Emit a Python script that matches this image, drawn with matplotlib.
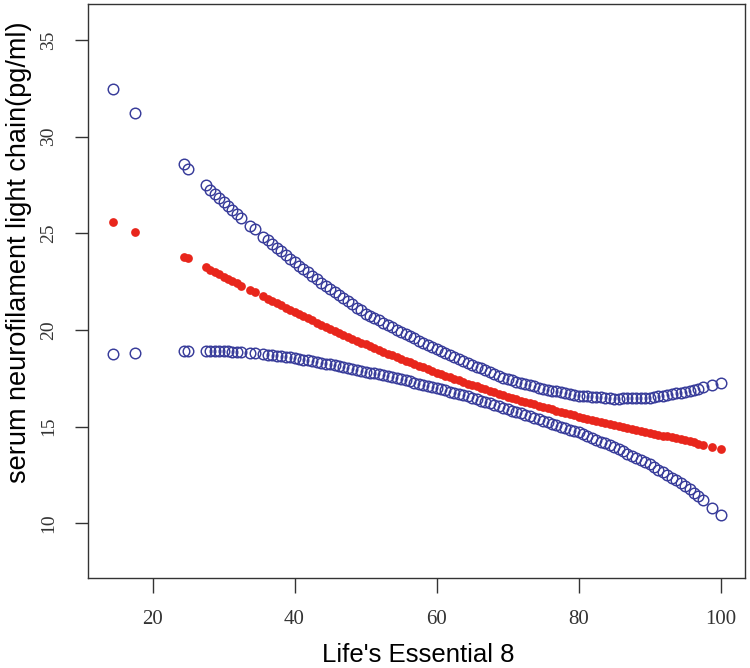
import matplotlib
matplotlib.use("Agg")
import matplotlib.pyplot as plt

# Life's Essential 8 score (x) and the three fitted series
le8 = [
    14.375, 17.5, 24.375, 25.0,
    27.5, 28.125, 28.75, 29.375, 30.0,
    30.625, 31.25, 31.875, 32.5, 33.75, 34.375,
    35.625, 36.25, 36.875, 37.5, 38.125, 38.75, 39.375, 40.0,
    40.625, 41.25, 41.875, 42.5, 43.125, 43.75, 44.375, 45.0,
    45.625, 46.25, 46.875, 47.5, 48.125, 48.75, 49.375, 50.0,
    50.625, 51.25, 51.875, 52.5, 53.125, 53.75, 54.375, 55.0,
    55.625, 56.25, 56.875, 57.5, 58.125, 58.75, 59.375, 60.0,
    60.625, 61.25, 61.875, 62.5, 63.125, 63.75, 64.375, 65.0,
    65.625, 66.25, 66.875, 67.5, 68.125, 68.75, 69.375, 70.0,
    70.625, 71.25, 71.875, 72.5, 73.125, 73.75, 74.375, 75.0,
    75.625, 76.25, 76.875, 77.5, 78.125, 78.75, 79.375, 80.0,
    80.625, 81.25, 81.875, 82.5, 83.125, 83.75, 84.375, 85.0,
    85.625, 86.25, 86.875, 87.5, 88.125, 88.75, 89.375, 90.0,
    90.625, 91.25, 91.875, 92.5, 93.125, 93.75, 94.375, 95.0,
    95.625, 96.25, 96.875, 97.5,
    98.75, 100.0,
]

nfl_fit = [
    25.60, 25.05, 23.80, 23.70,
    23.25, 23.12, 23.00, 22.87, 22.75,
    22.64, 22.53, 22.41, 22.30, 22.08, 21.96,
    21.74, 21.62, 21.50, 21.39, 21.27, 21.16, 21.04, 20.93,
    20.82, 20.71, 20.60, 20.49, 20.38, 20.27, 20.16, 20.05,
    19.95, 19.85, 19.75, 19.65, 19.55, 19.45, 19.35, 19.25,
    19.16, 19.06, 18.97, 18.88, 18.78, 18.69, 18.59, 18.50,
    18.41, 18.33, 18.24, 18.15, 18.06, 17.98, 17.89, 17.80,
    17.72, 17.64, 17.56, 17.48, 17.39, 17.31, 17.23, 17.15,
    17.08, 17.00, 16.93, 16.85, 16.78, 16.70, 16.63, 16.55,
    16.48, 16.42, 16.35, 16.29, 16.22, 16.15, 16.09, 16.02,
    15.96, 15.90, 15.83, 15.77, 15.71, 15.65, 15.58, 15.52,
    15.47, 15.41, 15.36, 15.30, 15.25, 15.19, 15.14, 15.08,
    15.03, 14.98, 14.93, 14.88, 14.83, 14.78, 14.73, 14.68,
    14.63, 14.59, 14.54, 14.49, 14.44, 14.40, 14.35, 14.30,
    14.24, 14.18, 14.12, 14.06,
    13.94, 13.82,
]

nfl_upper = [
    32.45, 31.20, 28.60, 28.35,
    27.48, 27.26, 27.04, 26.82, 26.60,
    26.40, 26.19, 25.99, 25.78, 25.39, 25.20,
    24.81, 24.63, 24.44, 24.25, 24.06, 23.88, 23.69, 23.50,
    23.33, 23.15, 22.98, 22.80, 22.63, 22.45, 22.28, 22.10,
    21.94, 21.79, 21.63, 21.48, 21.32, 21.16, 21.01, 20.85,
    20.73, 20.61, 20.49, 20.38, 20.26, 20.14, 20.02, 19.90,
    19.79, 19.68, 19.56, 19.45, 19.34, 19.23, 19.11, 19.00,
    18.90, 18.80, 18.70, 18.60, 18.50, 18.40, 18.30, 18.20,
    18.11, 18.01, 17.92, 17.83, 17.73, 17.64, 17.54, 17.45,
    17.39, 17.33, 17.26, 17.20, 17.14, 17.08, 17.01, 16.95,
    16.91, 16.86, 16.82, 16.78, 16.73, 16.69, 16.64, 16.60,
    16.58, 16.56, 16.54, 16.53, 16.51, 16.49, 16.47, 16.45,
    16.45, 16.46, 16.47, 16.47, 16.48, 16.49, 16.49, 16.50,
    16.54, 16.58, 16.61, 16.65, 16.69, 16.73, 16.76, 16.80,
    16.86, 16.91, 16.97, 17.03,
    17.14, 17.25,
]

nfl_lower = [
    18.78, 18.82, 18.90, 18.90,
    18.92, 18.92, 18.91, 18.91, 18.90,
    18.89, 18.87, 18.86, 18.84, 18.81, 18.80,
    18.76, 18.73, 18.70, 18.67, 18.64, 18.61, 18.58, 18.55,
    18.51, 18.47, 18.43, 18.39, 18.34, 18.30, 18.26, 18.22,
    18.17, 18.13, 18.08, 18.04, 17.99, 17.94, 17.90, 17.85,
    17.80, 17.75, 17.70, 17.65, 17.60, 17.55, 17.50, 17.45,
    17.39, 17.34, 17.28, 17.23, 17.17, 17.11, 17.06, 17.00,
    16.94, 16.88, 16.81, 16.75, 16.69, 16.63, 16.56, 16.50,
    16.43, 16.35, 16.28, 16.20, 16.13, 16.05, 15.98, 15.90,
    15.83, 15.75, 15.68, 15.60, 15.53, 15.45, 15.38, 15.30,
    15.23, 15.15, 15.08, 15.00, 14.93, 14.85, 14.78, 14.70,
    14.61, 14.51, 14.42, 14.33, 14.23, 14.14, 14.04, 13.95,
    13.84, 13.73, 13.61, 13.50, 13.39, 13.28, 13.16, 13.05,
    12.91, 12.78, 12.64, 12.50, 12.36, 12.23, 12.09, 11.95,
    11.76, 11.58, 11.39, 11.20,
    10.80, 10.42,
]

x_ticks = [20, 40, 60, 80, 100]
y_ticks = [10, 15, 20, 25, 30, 35]

BLUE = "#383c9a"
RED = "#e8261c"
FRAME = "#333333"


def main():
    fig = plt.figure(figsize=(7.5, 6.68), dpi=100)
    ax = fig.add_axes([0.1177, 0.1347, 0.8756, 0.8593])

    # confidence bands as open circles, fitted values as red dots
    ax.plot(le8, nfl_upper, "o", mfc="none", mec=BLUE, ms=7.6, mew=1.05)
    ax.plot(le8, nfl_lower, "o", mfc="none", mec=BLUE, ms=7.6, mew=1.05)
    ax.plot(le8, nfl_fit, "o", color=RED, ms=6.3, mew=0)

    ax.set_xlim(10.95, 103.43)
    ax.set_ylim(7.17, 36.86)

    ax.set_xticks(x_ticks)
    ax.set_yticks(y_ticks)
    ax.set_xticklabels([str(v) for v in x_ticks], family="Liberation Serif",
                       fontsize=15, color="#333333")
    ax.set_yticklabels([str(v) for v in y_ticks], family="Liberation Serif",
                       fontsize=14, color="#333333", rotation=90, va="center")
    ax.tick_params(axis="x", direction="out", length=10.8, width=1.0,
                   color=FRAME, pad=12)
    ax.tick_params(axis="y", direction="out", length=9.5, width=1.0,
                   color=FRAME, pad=13)
    for sp in ax.spines.values():
        sp.set_color(FRAME)
        sp.set_linewidth(1.0)

    fig.text(0.557, 0.0195, "Life's Essential 8", family="Liberation Sans",
             fontsize=18.5, ha="center", va="center")
    fig.text(0.0253, 0.622, "serum neurofilament light chain(pg/ml)",
             family="Liberation Sans", fontsize=19.5, rotation=90,
             ha="center", va="center")

    fig.savefig("out.png", dpi=100)


if __name__ == "__main__":
    main()
